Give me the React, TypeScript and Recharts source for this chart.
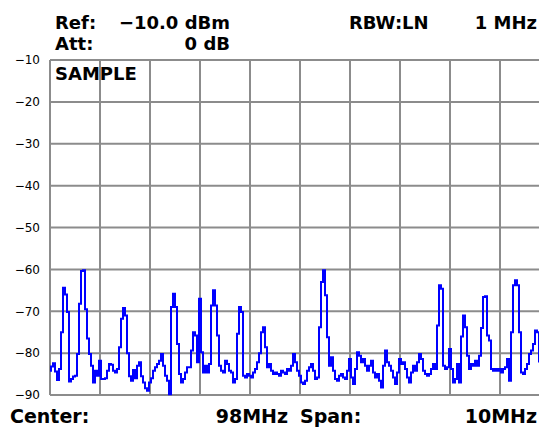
import { LineChart, Line, XAxis, YAxis, CartesianGrid } from "recharts";

// sweep: 93..103 MHz, one reading every 0.04 MHz
const startMHz = 93;
const stopMHz = 103;
const stepMHz = 0.04;
const freqTicks = [93, 94, 95, 96, 97, 98, 99, 100, 101, 102, 103];
const levelTicks = [-90, -80, -70, -60, -50, -40, -30, -20, -10];

const traceDbm = [
  -84.2, -83.2, -82.4, -84.4, -86.4, -83.8, -75, -64.4, -66, -70.2,
  -86.8, -86.2, -85.6, -85.4, -80.2, -68.2, -60.4, -60.2, -69.5, -76.5,
  -80.2, -83, -87, -84.2, -85.4, -81.8, -86.2, -86.2, -86, -84.2,
  -82.6, -82.8, -84.2, -84.6, -83.8, -78.6, -71.8, -69.2, -71, -80,
  -85.5, -86.6, -84, -86, -83, -82.2, -85.5, -87, -88.4, -89,
  -87, -86, -84.2, -83.4, -82.6, -81.8, -80.2, -83, -85.4, -86.6,
  -89.8, -69, -65.8, -69, -77.8, -85, -87, -86.2, -84.6, -83.4,
  -83.4, -79.4, -75, -75.8, -82.2, -67, -79.8, -84.6, -83, -84.6,
  -82.6, -68.6, -65, -68.6, -75.8, -83, -84.2, -84.6, -81.8, -82.6,
  -84.2, -84.6, -87, -86.2, -75.4, -69, -70.2, -85.4, -85.8, -85,
  -85.4, -85.8, -84.6, -83.8, -82.2, -80, -75, -73.8, -78.6, -83.4,
  -82.6, -84.2, -85, -84.6, -85, -85.4, -84.2, -84.6, -85, -83.8,
  -84.2, -83, -80.2, -82.2, -84.2, -85.4, -87, -87.4, -86.6, -84.2,
  -83.4, -82.6, -84.2, -86.2, -85.8, -73.8, -63, -60.2, -66.2, -76.2,
  -83, -81, -84.2, -86.2, -86.6, -85.4, -85, -85.8, -86.2, -84.2,
  -81.4, -85.8, -87.4, -83.8, -79.8, -80.6, -82.2, -81.4, -83, -84.2,
  -83, -81.8, -84.6, -85.8, -85, -86.6, -88.2, -83, -79.4, -82.2,
  -83, -84.2, -85.8, -87.4, -84.6, -81.4, -82.6, -82.2, -83.8, -85.8,
  -87, -84.6, -83, -84.2, -82.2, -80.2, -81.4, -84.2, -85, -85.4,
  -85, -83.8, -82.6, -83.8, -73.4, -63.8, -64.6, -83, -83.8, -83.4,
  -79, -83.8, -87, -86.2, -82.6, -87, -76, -71, -73.8, -80.6,
  -83.8, -82.6, -83, -81.8, -83, -80.6, -74, -66.6, -66.4, -75.8,
  -77, -83.8, -84.2, -83.8, -84.2, -83.8, -84.6, -83.8, -83.4, -81.4,
  -86.6, -75, -63.8, -62.6, -63.8, -75, -84.6, -85, -83.8, -82.6,
  -80.2, -79.4, -77.8, -74.6, -75, -82, -85, -84, -85, -84,
  -84.5,
];

const refLabel = "\u221210.0 dBm";
const attLabel = "0 dB";
const rbwLabel = "1 MHz";
const centerLabel = "98MHz";
const spanLabel = "10MHz";

const data = traceDbm.map((dbm, i) => ({ freq: startMHz + i * stepMHz, dbm }));

const minus = (v: number) => String(v).replace("-", "\u2212");

const txt = {
  fontFamily: "DejaVu Sans",
  fontWeight: 700,
  fill: "#000",
};

// vertical grid at every MHz
const freqGrid = (props: any) => {
  const scale = props?.xAxis?.scale;
  if (typeof scale === "function") return freqTicks.map((f) => scale(f));
  const off = props?.offset ?? {};
  const left = off.left ?? 50;
  const w = off.width ?? 500;
  return freqTicks.map((f) => left + ((f - startMHz) / (stopMHz - startMHz)) * w);
};

export default function App() {
  return (
    <div
      style={{
        position: "absolute",
        left: 0,
        top: 0,
        width: 539,
        height: 427,
        overflow: "hidden",
        background: "#fff",
      }}
    >
      <LineChart
        width={560}
        height={427}
        data={data}
        margin={{ top: 60, right: 10, bottom: 32, left: 0 }}
      >
        <CartesianGrid
          stroke="#8c8c8c"
          strokeWidth={2}
          verticalCoordinatesGenerator={freqGrid}
        />
        <XAxis
          dataKey="freq"
          type="number"
          domain={[startMHz, stopMHz]}
          ticks={freqTicks}
          height={0}
          tick={false}
          axisLine={false}
          tickLine={false}
        />
        <YAxis
          type="number"
          domain={[-90, -10]}
          ticks={levelTicks}
          width={50}
          axisLine={false}
          tickLine={false}
          tickMargin={4}
          tickFormatter={minus}
          tick={{ fontSize: 12, fontFamily: "DejaVu Sans", fill: "#000" }}
        />
        <Line
          dataKey="dbm"
          type="step"
          stroke="#0000ff"
          strokeWidth={2}
          dot={false}
          isAnimationActive={false}
        />
      </LineChart>
      <svg
        width={539}
        height={427}
        style={{ position: "absolute", left: 0, top: 0, pointerEvents: "none" }}
      >
        <g {...txt} fontSize={18}>
          <text x={55} y={29}>Ref:</text>
          <text x={230} y={29} textAnchor="end">{refLabel}</text>
          <text x={55} y={50}>Att:</text>
          <text x={230} y={50} textAnchor="end">{attLabel}</text>
          <text x={349} y={29}>RBW:LN</text>
          <text x={537} y={29} textAnchor="end">{rbwLabel}</text>
          <text x={55} y={80}>SAMPLE</text>
        </g>
        <g {...txt} fontSize={19}>
          <text x={10} y={423}>Center:</text>
          <text x={288} y={423} textAnchor="end">{centerLabel}</text>
          <text x={300} y={423}>Span:</text>
          <text x={537} y={423} textAnchor="end">{spanLabel}</text>
        </g>
      </svg>
    </div>
  );
}
